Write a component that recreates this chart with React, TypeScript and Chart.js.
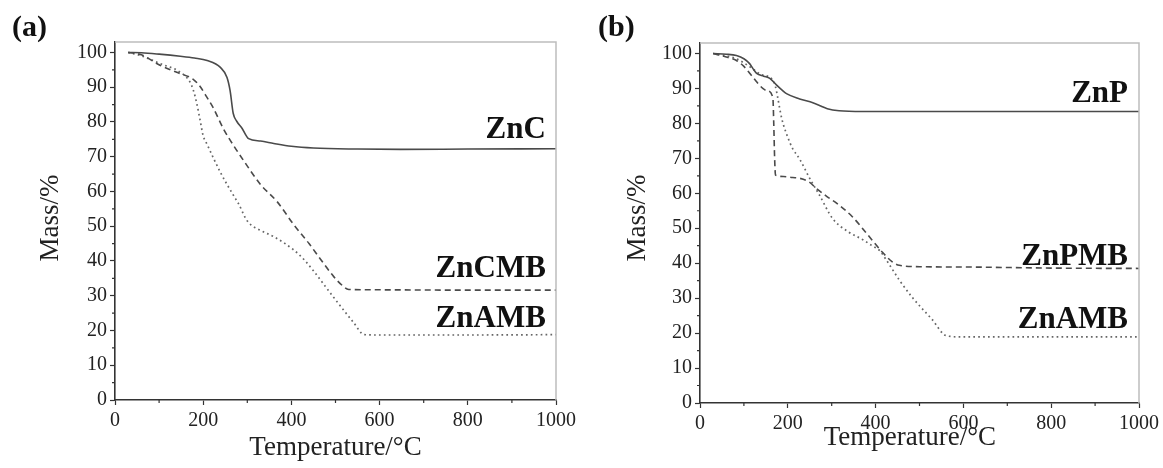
import React, { useEffect, useRef } from "react";
import { Chart, registerables } from "chart.js";

Chart.register(...registerables);

// ---- Tick values ----
const xTickValues = [0, 200, 400, 600, 800, 1000];
const xMinorTicks = [100, 300, 500, 700, 900];
const yTickValues = [0, 10, 20, 30, 40, 50, 60, 70, 80, 90, 100];
const yMinorTicks = [5, 15, 25, 35, 45, 55, 65, 75, 85, 95];

// ---- Panel (a) data ----
const aZnC_T = [30, 60, 100, 148, 180, 209, 239, 254, 261, 268, 276, 288, 303, 330, 360, 400, 450, 550, 648, 800, 1000];
const aZnC_M = [100, 99.9, 99.5, 98.9, 98.4, 97.7, 95.7, 92.8, 89, 82.5, 80.2, 78.2, 75.2, 74.5, 73.8, 73.0, 72.5, 72.2, 72.1, 72.2, 72.3];

const aZnCMB_T = [30, 60, 102, 140, 178, 193, 205, 223, 246, 270, 291, 330, 368, 405, 440, 466, 496, 515, 530, 600, 800, 1000];
const aZnCMB_M = [100, 99.3, 96.3, 94.3, 92.2, 90.2, 87.8, 84, 78, 73, 69, 62, 57, 50.5, 45, 40.5, 35.5, 33, 31.8, 31.7, 31.6, 31.6];

const aZnAMB_T = [30, 60, 102, 148, 170, 178, 186, 193, 200, 209, 239, 268, 280, 300, 330, 360, 405, 430, 451, 496, 541, 565, 600, 800, 1000];
const aZnAMB_M = [100, 99, 96.8, 94.3, 91.5, 89, 85, 80.5, 76, 73.5, 65.5, 59, 56.5, 51.5, 48.8, 47, 43.2, 40.2, 37, 29.5, 22.3, 18.8, 18.7, 18.7, 18.8];

// ---- Panel (b) data ----
const bZnP_T = [30, 60, 83, 100, 113, 121, 129, 145, 159, 174, 187, 197, 227, 257, 275, 290, 317, 370, 600, 800, 1000];
const bZnP_M = [100, 99.8, 99.4, 98.5, 97.1, 95.6, 94.3, 93.5, 92.9, 91, 89.5, 88.5, 87, 85.9, 85, 84.2, 83.6, 83.4, 83.4, 83.4, 83.4];

const bZnPMB_T = [30, 60, 83, 100, 121, 143, 152, 166, 168, 170, 172, 190, 211, 227, 249, 265, 290, 311, 347, 379, 415, 438, 454, 500, 612, 800, 1000];
const bZnPMB_M = [100, 99, 98, 96.3, 93.1, 90, 89.4, 87.4, 80, 70, 65.2, 64.8, 64.5, 64.3, 63.2, 61.4, 59, 57.2, 53.3, 48.6, 43.2, 40.4, 39.4, 39, 38.9, 38.6, 38.5];

const bZnAMB_T = [30, 60, 83, 110, 136, 166, 172, 177, 186, 200, 211, 227, 249, 272, 302, 340, 370, 392, 410, 424, 454, 483, 528, 562, 600, 800, 1000];
const bZnAMB_M = [100, 99.3, 98.5, 96.5, 94.2, 92.3, 90.5, 87.4, 81.5, 76, 72.8, 69.8, 64.5, 59.5, 52.8, 48.8, 46.8, 45, 43.5, 41, 35.2, 30.3, 24, 19.2, 18.9, 18.9, 18.9];

const FONT = "'Liberation Serif', 'Times New Roman', serif";

const zip = (t: number[], m: number[]) => t.map((x, i) => ({ x, y: m[i] }));

const STYLES: Record<string, any> = {
  solid: { borderColor: "#4a4a4a", borderWidth: 1.6, borderDash: [] },
  dash: { borderColor: "#4a4a4a", borderWidth: 1.6, borderDash: [6, 4] },
  dot: { borderColor: "#666", borderWidth: 1.7, borderDash: [1.7, 3.2] },
};

const decorPlugin = {
  id: "decor",
  afterDraw(chart: any, _args: any, opts: any) {
    const { ctx, chartArea: ca, scales } = chart;
    const x = scales.x;
    const y = scales.y;
    ctx.save();
    // top/right frame
    ctx.strokeStyle = "#bdbdbd";
    ctx.lineWidth = 1.5;
    ctx.beginPath();
    ctx.moveTo(ca.left, ca.top);
    ctx.lineTo(ca.right, ca.top);
    ctx.lineTo(ca.right, ca.bottom);
    ctx.stroke();
    // minor ticks
    ctx.strokeStyle = "#333";
    ctx.lineWidth = 1.2;
    ctx.beginPath();
    xMinorTicks.forEach((v) => {
      const px = x.getPixelForValue(v);
      ctx.moveTo(px, ca.bottom);
      ctx.lineTo(px, ca.bottom + 3);
    });
    yMinorTicks.forEach((v) => {
      const py = y.getPixelForValue(v);
      ctx.moveTo(ca.left, py);
      ctx.lineTo(ca.left - 3, py);
    });
    ctx.stroke();

    ctx.fillStyle = "#111";
    // panel letter
    ctx.font = `bold 30px ${FONT}`;
    ctx.textAlign = "left";
    ctx.textBaseline = "alphabetic";
    ctx.fillText(opts.letter, opts.letterX, opts.letterY);

    // curve labels
    ctx.font = `bold 31px ${FONT}`;
    ctx.textAlign = "right";
    opts.labels.forEach((l: any) => {
      ctx.fillText(l.text, x.getPixelForValue(l.x), y.getPixelForValue(l.y));
    });

    // axis titles
    ctx.fillStyle = "#222";
    ctx.font = `27px ${FONT}`;
    ctx.textAlign = "center";
    ctx.textBaseline = "alphabetic";
    ctx.fillText("Temperature/\u00B0C", x.getPixelForValue(opts.xTitleX), opts.xTitleY);
    ctx.save();
    ctx.translate(opts.yTitleX, opts.yTitleY);
    ctx.rotate(-Math.PI / 2);
    ctx.textBaseline = "middle";
    ctx.fillText("Mass/%", 0, 0);
    ctx.restore();
    ctx.restore();
  },
};

function Panel(props: {
  series: { t: number[]; m: number[]; style: string }[];
  left: number;
  width: number;
  plotLeft: number;
  plotRight: number;
  plotTop: number;
  plotBottom: number;
  decor: any;
}) {
  const ref = useRef<HTMLCanvasElement>(null);
  useEffect(() => {
    const H = 468;
    const chart = new Chart(ref.current as HTMLCanvasElement, {
      type: "line",
      data: {
        datasets: props.series.map((s) => ({
          data: zip(s.t, s.m),
          ...STYLES[s.style],
          pointRadius: 0,
          fill: false,
          cubicInterpolationMode: "monotone",
        })),
      },
      options: {
        animation: false,
        responsive: false,
        events: [],
        layout: {
          padding: {
            left: 0,
            top: props.plotTop,
            right: props.width - props.plotRight,
            bottom: 0,
          },
        },
        plugins: {
          legend: { display: false },
          tooltip: { enabled: false },
          decor: props.decor,
        } as any,
        scales: {
          x: {
            type: "linear",
            min: 0,
            max: 1000,
            afterFit: (s: any) => {
              s.height = H - props.plotBottom;
            },
            afterBuildTicks: (s: any) => {
              s.ticks = xTickValues.map((v) => ({ value: v }));
            },
            ticks: {
              font: { family: FONT, size: 20 },
              color: "#222",
              padding: 4,
              maxRotation: 0,
              autoSkip: false,
              includeBounds: false,
              callback: (v: any) => String(v),
            },
            grid: {
              drawOnChartArea: false,
              tickLength: 5,
              tickColor: "#333",
              tickWidth: 1.2,
            },
            border: { color: "#333", width: 1.6 },
          },
          y: {
            type: "linear",
            min: 0,
            max: 103,
            afterFit: (s: any) => {
              s.width = props.plotLeft;
            },
            afterBuildTicks: (s: any) => {
              s.ticks = yTickValues.map((v) => ({ value: v }));
            },
            ticks: {
              font: { family: FONT, size: 20 },
              color: "#222",
              padding: 3,
              autoSkip: false,
              includeBounds: false,
              callback: (v: any) => String(v),
            },
            grid: {
              drawOnChartArea: false,
              tickLength: 5,
              tickColor: "#333",
              tickWidth: 1.2,
            },
            border: { color: "#333", width: 1.6 },
          },
        },
      },
      plugins: [decorPlugin],
    });
    return () => chart.destroy();
  }, []);
  return (
    <canvas
      ref={ref}
      width={props.width}
      height={468}
      style={{ position: "absolute", left: props.left, top: 0, width: props.width, height: 468 }}
    />
  );
}

export default function App() {
  return (
    <div style={{ position: "absolute", left: 0, top: 0, width: 1163, height: 468, background: "#fff" }}>
      <Panel
        left={0}
        width={580}
        plotLeft={115}
        plotRight={556}
        plotTop={42}
        plotBottom={400}
        series={[
          { t: aZnC_T, m: aZnC_M, style: "solid" },
          { t: aZnCMB_T, m: aZnCMB_M, style: "dash" },
          { t: aZnAMB_T, m: aZnAMB_M, style: "dot" },
        ]}
        decor={{
          letter: "(a)",
          letterX: 12,
          letterY: 36,
          labels: [
            { text: "ZnC", x: 977, y: 75.3 },
            { text: "ZnCMB", x: 977, y: 35.3 },
            { text: "ZnAMB", x: 977, y: 21 },
          ],
          xTitleX: 500,
          xTitleY: 455,
          yTitleX: 51,
          yTitleY: 218,
        }}
      />
      <Panel
        left={580}
        width={583}
        plotLeft={120}
        plotRight={561}
        plotTop={43}
        plotBottom={403}
        series={[
          { t: bZnP_T, m: bZnP_M, style: "solid" },
          { t: bZnPMB_T, m: bZnPMB_M, style: "dash" },
          { t: bZnAMB_T, m: bZnAMB_M, style: "dot" },
        ]}
        decor={{
          letter: "(b)",
          letterX: 18,
          letterY: 36,
          labels: [
            { text: "ZnP", x: 975, y: 86 },
            { text: "ZnPMB", x: 975, y: 39.4 },
            { text: "ZnAMB", x: 975, y: 21.4 },
          ],
          xTitleX: 478,
          xTitleY: 445,
          yTitleX: 58,
          yTitleY: 218,
        }}
      />
    </div>
  );
}
